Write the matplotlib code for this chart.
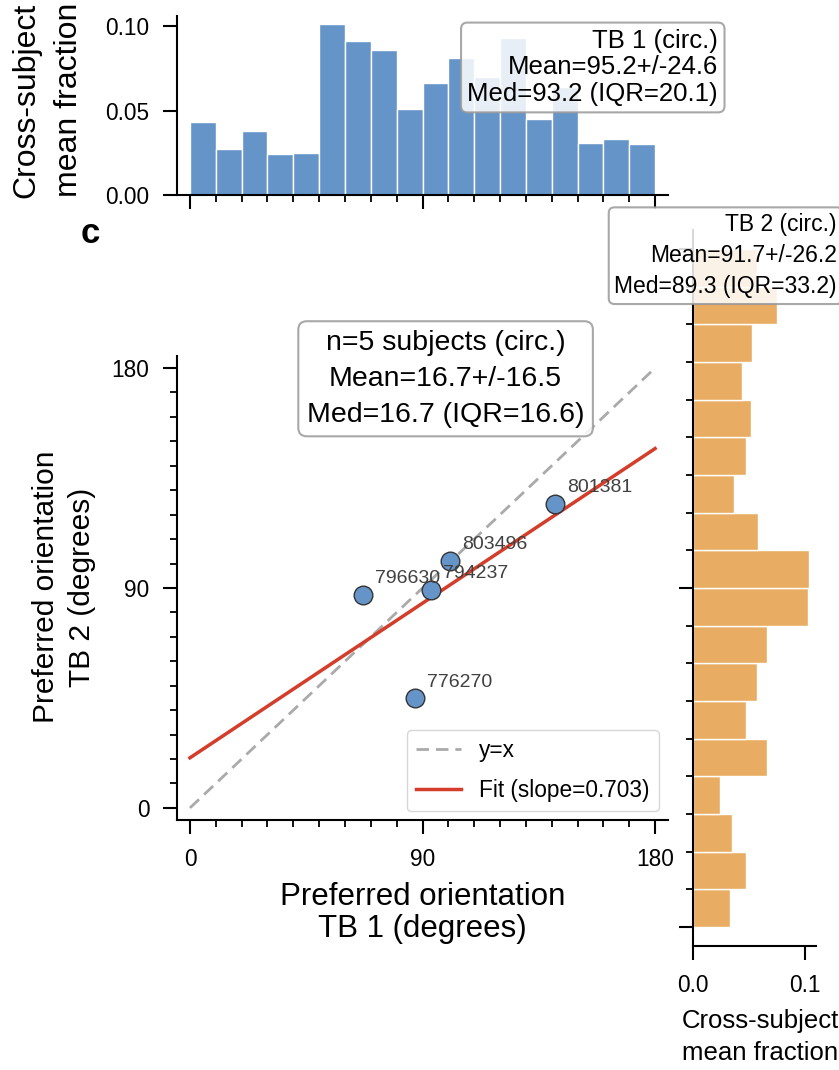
import matplotlib
matplotlib.use("Agg")
import matplotlib.pyplot as plt
from matplotlib.ticker import MultipleLocator, FormatStrFormatter

plt.rcParams['font.family'] = ['Liberation Sans', 'DejaVu Sans']

# ---- data ----
bin_left = [0, 10, 20, 30, 40, 50, 60, 70, 80, 90, 100, 110, 120, 130, 140, 150, 160, 170]
tb1_frac = [0.043, 0.027, 0.038, 0.024, 0.025, 0.101, 0.091, 0.086, 0.051,
            0.066, 0.081, 0.070, 0.093, 0.045, 0.064, 0.031, 0.033, 0.030]
tb2_frac = [0.033, 0.048, 0.035, 0.024, 0.066, 0.048, 0.057, 0.066, 0.103,
            0.104, 0.058, 0.037, 0.048, 0.052, 0.044, 0.053, 0.075, 0.057]

subjects = ['776270', '794237', '796630', '801381', '803496']
tb1_pref = [87.1, 93.2, 67.1, 141.3, 100.7]
tb2_pref = [44.9, 89.2, 87.2, 124.4, 101.1]

fit_slope = 0.703
fit_intercept = 20.5

tb1_stats = "TB 1 (circ.)\nMean=95.2+/-24.6\nMed=93.2 (IQR=20.1)"
tb2_stats = "TB 2 (circ.)\nMean=91.7+/-26.2\nMed=89.3 (IQR=33.2)"
diff_stats = "n=5 subjects (circ.)\nMean=16.7+/-16.5\nMed=16.7 (IQR=16.6)"

blue = '#6594c9'
orange = '#e8ad63'
red = '#d43d2a'


def style(a):
    for s in ['top', 'right']:
        a.spines[s].set_visible(False)
    for s in ['left', 'bottom']:
        a.spines[s].set_linewidth(1.5)
    a.tick_params(which='major', length=10, width=1.5, pad=10, labelsize=16.3)
    a.tick_params(which='minor', length=5, width=1.3)


fig = plt.figure(figsize=(8.39, 10.70), dpi=100)
ax_top = fig.add_axes([0.2110, 0.8178, 0.5852, 0.1673])
ax = fig.add_axes([0.2110, 0.2335, 0.5852, 0.4340])
ax_right = fig.add_axes([0.8256, 0.1161, 0.1470, 0.6689])


def statbox(pad):
    return dict(boxstyle='round,pad=%s' % pad, facecolor='white', edgecolor='#999999',
                alpha=0.85, linewidth=1.5)


# ---- top histogram (TB 1) ----
ax_top.bar(bin_left, tb1_frac, width=10, align='edge', color=blue,
           edgecolor='white', linewidth=1)
ax_top.set_xlim(-5, 185)
ax_top.set_ylim(0, 0.106)
ax_top.set_xticks([0, 90, 180])
ax_top.set_xticklabels([])
ax_top.xaxis.set_minor_locator(MultipleLocator(10))
ax_top.set_yticks([0, 0.05, 0.10])
ax_top.yaxis.set_major_formatter(FormatStrFormatter('%.2f'))
style(ax_top)
ax_top.set_ylabel("Cross-subject\nmean fraction", fontsize=23, linespacing=1.55)
ax_top.yaxis.set_label_coords(-0.19, 0.53)
ax_top.text(1.102, 0.927, tb1_stats, transform=ax_top.transAxes, ha='right',
            va='top', fontsize=18.5, linespacing=1.13, bbox=statbox(0.25), zorder=5)

# ---- scatter ----
ax.plot([0, 180], [0, 180], ls=(0, (4.5, 2.5)), color='#aaaaaa', lw=2,
        label='y=x', zorder=1)
ax.plot([0, 180], [fit_intercept, fit_intercept + fit_slope * 180], color=red,
        lw=2.5, label='Fit (slope=%.3f)' % fit_slope, zorder=2)
ax.scatter(tb1_pref, tb2_pref, s=180, color=blue, edgecolors='#333333',
           linewidths=1, zorder=3)
for name, x, y in zip(subjects, tb1_pref, tb2_pref):
    ax.annotate(name, (x, y), xytext=(8.6, 8.3), textcoords='offset points',
                fontsize=14, color='#404040', va='baseline', zorder=4)
ax.set_xlim(-5, 185)
ax.set_ylim(-5, 185)
ax.set_xticks([0, 90, 180])
ax.set_yticks([0, 90, 180])
ax.xaxis.set_minor_locator(MultipleLocator(10))
ax.yaxis.set_minor_locator(MultipleLocator(10))
style(ax)
ax.set_xlabel("Preferred orientation\nTB 1 (degrees)", fontsize=22.5, linespacing=1.1)
ax.xaxis.set_label_coords(0.5, -0.133)
ax.set_ylabel("Preferred orientation\nTB 2 (degrees)", fontsize=21.5, linespacing=1.36)
ax.yaxis.set_label_coords(-0.166, 0.502)
ax.legend(loc='lower right', fontsize=16.3, edgecolor='#cccccc', framealpha=0.8,
          borderaxespad=0.4, borderpad=0.4, labelspacing=0.75)
ax.text(0.547, 1.056, diff_stats, transform=ax.transAxes, ha='center', va='top',
        multialignment='center', fontsize=20.5, linespacing=1.5,
        bbox=statbox(0.3), zorder=5)

# ---- right histogram (TB 2) ----
ax_right.barh([b + 5 for b in bin_left], tb2_frac, height=10, color=orange,
              edgecolor='white', linewidth=1)
ax_right.set_ylim(-5, 185)
ax_right.set_xlim(0, 0.11)
ax_right.set_yticks([0, 90, 180])
ax_right.set_yticklabels([])
ax_right.yaxis.set_minor_locator(MultipleLocator(10))
ax_right.set_xticks([0, 0.1])
ax_right.xaxis.set_major_formatter(FormatStrFormatter('%.1f'))
style(ax_right)
ax_right.set_xlabel("Cross-subject\nmean fraction", fontsize=18.5, linespacing=1.4)
ax_right.xaxis.set_label_coords(0.546, -0.0883)
ax_right.text(1.17, 1.0237, tb2_stats, transform=ax_right.transAxes, ha='right',
              va='top', fontsize=16.5, linespacing=1.45, bbox=statbox(0.25), zorder=5)

fig.text(0.0965, 0.7729, 'c', fontsize=25, fontweight='bold', ha='left', va='baseline')

fig.savefig('out.png', dpi=100)
